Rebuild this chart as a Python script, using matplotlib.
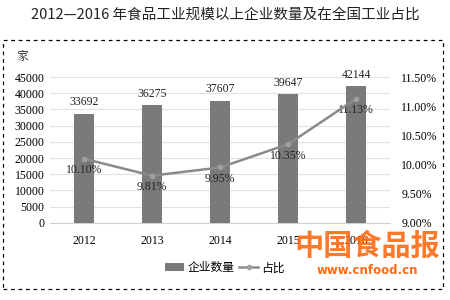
import matplotlib.pyplot as plt
from matplotlib.patches import Rectangle

plt.rcParams['font.family'] = ['Noto Sans CJK SC', 'DejaVu Sans']

# data
years = ['2012', '2013', '2014', '2015', '2016']
counts = [33692, 36275, 37607, 39647, 42144]
shares = [10.10, 9.81, 9.95, 10.35, 11.13]

serif = 'Liberation Serif'

fig = plt.figure(figsize=(4.5, 3), dpi=100)
ax = fig.add_axes([0.111, 0.257, 0.756, 0.486])
x = range(len(years))

ax.bar(x, counts, width=0.3, color='#7a7a7a', zorder=3, label='企业数量')
ax.set_ylim(0, 45000)
ax.set_yticks(range(0, 45001, 5000))
ax.set_xlim(-0.5, 4.5)
ax.grid(axis='y', color='#e2e2e2', linewidth=0.8, zorder=0)
for s in ax.spines.values():
    s.set_visible(False)
ax.spines['bottom'].set_visible(True)
ax.spines['bottom'].set_color('#d0d0d0')
ax.tick_params(length=0, labelsize=8.5, pad=4)
ax.tick_params(axis='x', pad=9)
ax.set_xticks(list(x))
ax.set_xticklabels(years, fontfamily=serif, fontsize=8.5)
for lbl in ax.get_yticklabels():
    lbl.set_fontfamily(serif)
for i, v in enumerate(counts):
    ax.text(i, v + 1800, str(v), ha='center', va='bottom', fontsize=8.5, fontfamily=serif, color='#222222')

ax2 = ax.twinx()
ax2.plot(x, shares, color='#8a8a8a', linewidth=1.8, marker='o', markersize=3,
         markerfacecolor='#a0a0a0', markeredgecolor='#a0a0a0', zorder=4, label='占比')
ax2.set_ylim(9.0, 11.5)
ax2.set_yticks([9.0, 9.5, 10.0, 10.5, 11.0, 11.5])
ax2.set_yticklabels([f'{t:.2f}%' for t in [9.0, 9.5, 10.0, 10.5, 11.0, 11.5]], fontfamily=serif, fontsize=8.5)
for s in ax2.spines.values():
    s.set_visible(False)
ax2.tick_params(length=0, pad=8)
for i, v in enumerate(shares):
    ax2.text(i, v - 0.2, f'{v:.2f}%', ha='center', va='center', fontsize=8.5, fontfamily=serif, color='#222222')

fig.text(0.5, 0.95, '2012—2016 年食品工业规模以上企业数量及在全国工业占比', ha='center', va='center', fontsize=10.5, color='#222222')
fig.text(0.049, 0.81, '家', ha='center', va='center', fontsize=8.5, fontfamily='Noto Serif CJK SC', color='#222222')

h1, l1 = ax.get_legend_handles_labels()
h2, l2 = ax2.get_legend_handles_labels()
fig.legend(h1 + h2, l1 + l2, loc='center', bbox_to_anchor=(0.5, 0.107), ncol=2, frameon=False,
           fontsize=8.5, handlelength=1.6, columnspacing=0.4, handletextpad=0.3)

fig.patches.append(Rectangle((0.007, 0.037), 0.978, 0.83, transform=fig.transFigure, fill=False,
                             edgecolor='black', linestyle=(0, (3, 3)), linewidth=0.9))

# watermark
fig.text(0.816, 0.18, '中国食品报', ha='center', va='center', fontsize=21, fontweight='bold', color='#ff6a13', alpha=0.9)
fig.text(0.816, 0.1, 'www.cnfood.cn', ha='center', va='center', fontsize=8.5, fontweight='bold', color='#ff6a13',
         family=['DejaVu Sans'])

fig.savefig('out.png', dpi=100)
